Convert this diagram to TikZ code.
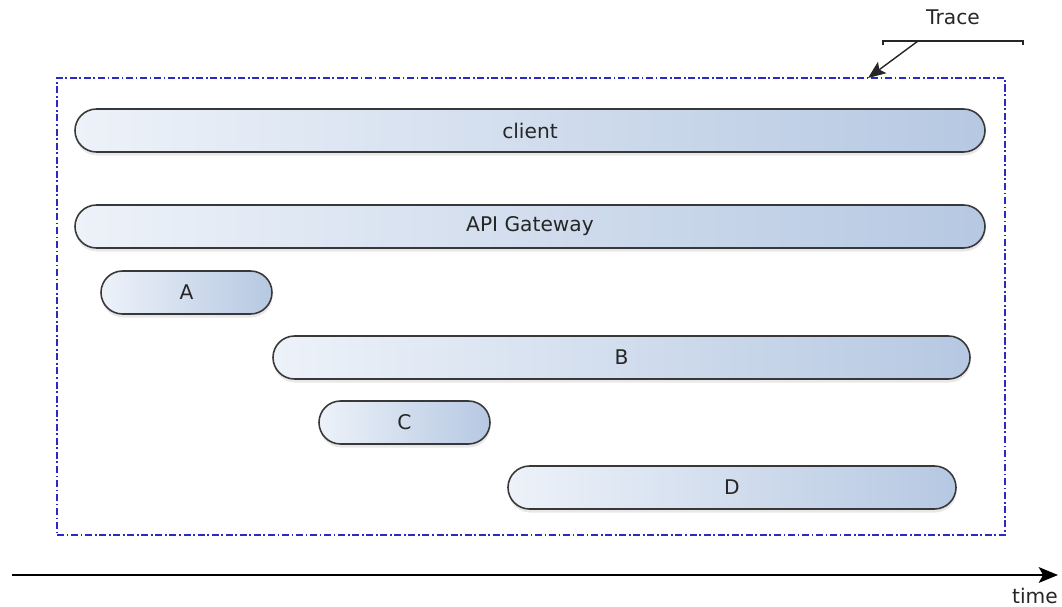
\documentclass[tikz,border=0pt]{standalone}
\usepackage{fontspec}
\setmainfont{DejaVu Sans}
\usetikzlibrary{shadows,arrows.meta}
\definecolor{spanleft}{HTML}{EDF2F9}
\definecolor{spanright}{HTML}{B6C8E2}
\definecolor{tracecol}{HTML}{2B2BC2}
\tikzset{
  span/.style={rectangle, rounded corners=0.43cm, draw=black!78, line width=0.9pt,
    left color=spanleft, right color=spanright, minimum height=0.86cm, inner sep=0pt,
    font=\fontsize{11.5}{13}\selectfont, text=black!85,
    drop shadow={opacity=0.18, shadow xshift=0.3pt, shadow yshift=-2pt}},
  lbl/.style={font=\fontsize{11.5}{13}\selectfont, text=black!85, inner sep=1pt}
}

\begin{document}
\begin{tikzpicture}[x=0.02cm, y=-0.02cm]
\newcommand{\px}{0.02cm}
\useasboundingbox (0,0) rectangle (1062,606);
% trace box
\node[draw=tracecol, line width=0.6pt, dash pattern=on 4pt off 1.5pt on 1pt off 1.5pt,
  minimum width=948*\px, minimum height=457*\px, inner sep=0pt] (trace) at (531,306.5) {};
% spans
\node[span, minimum width=910*\px] (client) at (530,130.5) {client};
\node[span, minimum width=910*\px] (gateway) at (530,226.5) {API Gateway};
\node[span, minimum width=171*\px] (A) at (186.5,292.5) {A};
\node[span, minimum width=697*\px] (B) at (621.5,357.5) {B};
\node[span, minimum width=171*\px] (C) at (404.5,422.5) {C};
\node[span, minimum width=448*\px] (D) at (732,487.5) {D};
% trace label
\node[lbl] (tracelbl) at (953,17) {Trace};
\coordinate (brl) at (883,41);
\coordinate (brr) at (1023,41);
\coordinate (brtip) at (918,41);
\coordinate (boxhit) at (868,78);
\draw[line width=0.8pt, black!85] ([yshift=-2.5pt]brl) -- (brl) -- (brr) -- ([yshift=-2.5pt]brr);
\draw[line width=0.8pt, black!85, -{Stealth[length=10pt, width=8pt, inset=2pt]}] (brtip) -- (boxhit);
% time axis
\coordinate (t0) at (12,575);
\coordinate (t1) at (1058,575);
\draw[line width=0.8pt, -{Stealth[length=11pt, width=9pt, inset=2.5pt]}] (t0) -- (t1);
\node[lbl] (timelbl) at (1035,596) {time};
\end{tikzpicture}
\end{document}
